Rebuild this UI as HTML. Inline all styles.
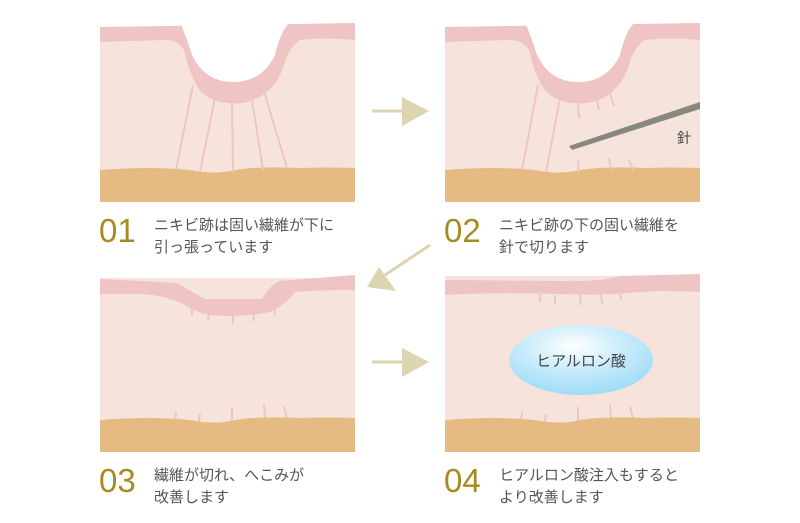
<!DOCTYPE html>
<html><head><meta charset="utf-8"><style>
html,body{margin:0;padding:0;background:#fff;}
svg{display:block}
text{font-family:"Liberation Sans","Noto Sans CJK JP",sans-serif;}
</style></head><body>
<svg width="800" height="523" viewBox="0 0 800 523" xmlns="http://www.w3.org/2000/svg">
<defs>
<radialGradient id="g" cx="0.45" cy="0.3" r="0.7">
<stop offset="0" stop-color="#ffffff"/><stop offset="0.5" stop-color="#c8ecfb"/><stop offset="1" stop-color="#9fdcf6"/>
</radialGradient>
<g id="crater">
<rect x="0" y="27" width="255" height="175" fill="#f6e4dc"/>
<path d="M0,27 L255,23 L255,40 Q225,37 200,40 Q188,48 183,68 Q172,98 142,103 Q112,106 98,88 Q88,70 84,50 Q78,40 65,40 L0,42 Z" fill="#efc4c4"/>
<path d="M80,20 L82,27 Q88,42 92,55 Q105,82 133,82 Q162,82 175,55 Q180,32 190,22 Z" fill="#fff"/>
<path d="M0,170 Q50,166 90,170 Q115,175 135,170 Q160,166 200,168 Q230,167 255,168 L255,202 L0,202 Z" fill="#e6bb83"/>
</g>
</defs>

<!-- Panel 1 -->
<g>
<use href="#crater" x="100"/>
<g stroke="#efc4c4" stroke-width="2" fill="none">
<line x1="193" y1="85" x2="176" y2="170"/>
<line x1="215" y1="98" x2="200" y2="172"/>
<line x1="232" y1="102" x2="233" y2="172"/>
<line x1="252" y1="100" x2="263" y2="170"/>
<line x1="263" y1="88" x2="287" y2="168"/>
</g>
<text x="99" y="242" font-size="33" fill="#a88a22">01</text>
<text x="154" y="230" font-size="15" fill="#555">ニキビ跡は固い繊維が下に</text>
<text x="154" y="252" font-size="15" fill="#555">引っ張っています</text>
</g>

<!-- Panel 2 -->
<g>
<use href="#crater" x="445"/>
<g stroke="#efc4c4" stroke-width="2" fill="none">
<line x1="538" y1="85" x2="522" y2="170"/>
<line x1="560" y1="98" x2="546" y2="172"/>
<line x1="578" y1="102" x2="579" y2="118"/>
<line x1="597" y1="100" x2="599" y2="110"/>
<line x1="609" y1="90" x2="614" y2="106"/>
<line x1="578" y1="160" x2="579" y2="172"/>
<line x1="609" y1="158" x2="611" y2="170"/>
<line x1="629" y1="160" x2="633" y2="170"/>
</g>
<polygon points="700,102 700,109 572,150 569,146" fill="#888882"/>
<text x="677" y="143" font-size="14" fill="#444">針</text>
<text x="444" y="242" font-size="33" fill="#a88a22">02</text>
<text x="499" y="230" font-size="15" fill="#555">ニキビ跡の下の固い繊維を</text>
<text x="499" y="252" font-size="15" fill="#555">針で切ります</text>
</g>

<!-- Panel 3 -->
<g>
<rect x="100" y="278" width="255" height="174" fill="#f6e4dc"/>
<path d="M100,279 L177,283 Q192,292 205,299 L262,299 Q270,285 280,281 L355,275 L355,290 Q320,290 295,292 Q285,305 270,312 Q240,318 210,315 Q195,312 185,305 Q165,295 140,294 L100,294 Z" fill="#efc4c4"/>
<g stroke="#efc4c4" stroke-width="2" fill="none">
<line x1="192" y1="308" x2="192" y2="316"/><line x1="209" y1="311" x2="208" y2="320"/>
<line x1="233" y1="313" x2="233" y2="324"/><line x1="253" y1="312" x2="254" y2="321"/>
<line x1="274" y1="306" x2="275" y2="315"/>
<line x1="176" y1="412" x2="175" y2="422"/><line x1="200" y1="414" x2="199" y2="422"/>
<line x1="232" y1="407" x2="232" y2="421"/><line x1="264" y1="405" x2="265" y2="418"/>
<line x1="284" y1="407" x2="287" y2="418"/>
</g>
<path d="M100,420 Q150,416 190,420 Q215,425 235,420 Q260,416 300,418 Q330,417 355,418 L355,452 L100,452 Z" fill="#e6bb83"/>
<text x="99" y="492" font-size="33" fill="#a88a22">03</text>
<text x="154" y="480" font-size="15" fill="#555">繊維が切れ、へこみが</text>
<text x="154" y="502" font-size="15" fill="#555">改善します</text>
</g>

<!-- Panel 4 -->
<g>
<rect x="445" y="276" width="255" height="176" fill="#f6e4dc"/>
<path d="M445,280 L560,281 Q600,282 620,276 L700,274 L700,292 Q660,290 640,292 Q600,296 560,294 Q500,292 445,295 Z" fill="#efc4c4"/>
<g stroke="#efc4c4" stroke-width="2" fill="none">
<line x1="540" y1="294" x2="540" y2="302"/><line x1="555" y1="295" x2="555" y2="304"/>
<line x1="580" y1="295" x2="581" y2="305"/><line x1="601" y1="294" x2="602" y2="304"/>
<line x1="620" y1="292" x2="621" y2="300"/>
<line x1="522" y1="412" x2="521" y2="422"/><line x1="546" y1="414" x2="545" y2="422"/>
<line x1="578" y1="407" x2="578" y2="421"/><line x1="610" y1="405" x2="611" y2="418"/>
<line x1="630" y1="407" x2="633" y2="418"/>
</g>
<path d="M445,420 Q495,416 535,420 Q560,425 580,420 Q605,416 645,418 Q675,417 700,418 L700,452 L445,452 Z" fill="#e6bb83"/>
<ellipse cx="581" cy="360" rx="72" ry="35" fill="url(#g)"/>
<text x="581" y="366" font-size="15" fill="#444" text-anchor="middle">ヒアルロン酸</text>
<text x="444" y="492" font-size="33" fill="#a88a22">04</text>
<text x="499" y="480" font-size="15" fill="#555">ヒアルロン酸注入もすると</text>
<text x="499" y="502" font-size="15" fill="#555">より改善します</text>
</g>

<!-- arrows -->
<g fill="#ddd4b0" stroke="#ddd4b0">
<line x1="372" y1="111" x2="404" y2="111" stroke-width="3"/>
<polygon points="402,97 429,111 402,126" stroke="none"/>
<line x1="372" y1="362" x2="404" y2="362" stroke-width="3"/>
<polygon points="402,348 429,362 402,377" stroke="none"/>
<line x1="430" y1="245" x2="385" y2="275" stroke-width="3"/>
<polygon points="367,287 379,267 396,291" stroke="none"/>
</g>
</svg>
</body></html>
